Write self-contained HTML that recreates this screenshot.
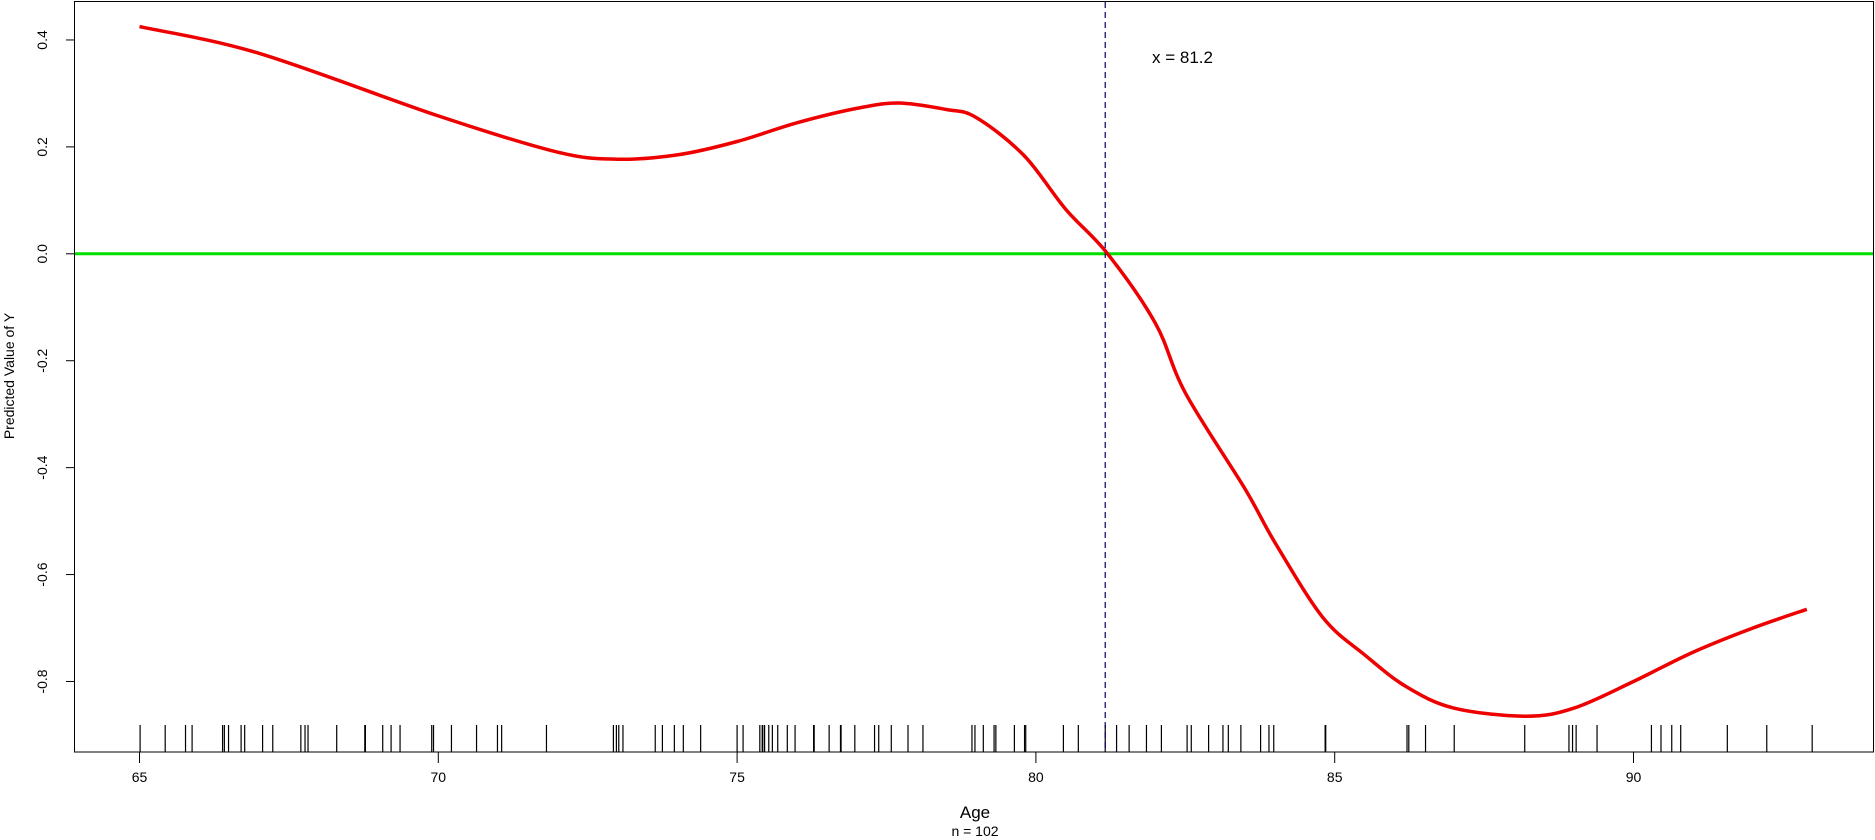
<!DOCTYPE html>
<html><head><meta charset="utf-8"><style>
html,body{margin:0;padding:0;background:#fff;}
svg{display:block;font-family:"Liberation Sans",Arial,sans-serif;}
</style></head><body>
<svg id="chart" width="1875" height="840" viewBox="0 0 1875 840">
<rect x="74.5" y="1.5" width="1799" height="750.5" fill="none" stroke="#000" stroke-width="1"/>
<g id="axes"></g>
<g id="marks"></g>
<text x="1152" y="63" font-size="17">x = 81.2</text>
<text x="975" y="818" font-size="17" text-anchor="middle">Age</text>
<text x="975" y="836" font-size="14" text-anchor="middle">n = 102</text>
<text transform="translate(14,376) rotate(-90)" font-size="14" text-anchor="middle">Predicted Value of Y</text>
</svg>
<script>
const xTicks = [65,70,75,80,85,90];
const yTicks = [0.4,0.2,0.0,-0.2,-0.4,-0.6,-0.8];
const yTickLabels = ["0.4","0.2","0.0","-0.2","-0.4","-0.6","-0.8"];
const curveX = [65,67,70,72,73,74,75,76,77,77.7,78.5,79,79.8,80.5,81.2,82,82.5,83.5,84,84.8,85.5,86.2,87,88.2,89,90,91,92,92.9];
const curveY = [0.425,0.375,0.258,0.19,0.177,0.185,0.21,0.245,0.272,0.282,0.27,0.255,0.184,0.083,0,-0.13,-0.26,-0.44,-0.54,-0.68,-0.75,-0.81,-0.85,-0.865,-0.85,-0.80,-0.745,-0.70,-0.665];
const rugX = [65.01,65.43,65.77,65.88,66.39,66.42,66.49,66.70,66.76,67.06,67.23,67.70,67.77,67.82,68.30,68.77,68.78,69.07,69.21,69.36,69.89,69.92,70.22,70.64,70.99,71.06,71.81,72.93,72.98,73.02,73.09,73.63,73.75,73.95,74.10,74.39,
75.00,75.10,75.38,75.42,75.43,75.46,75.53,75.59,75.68,75.84,75.97,76.28,76.29,76.54,76.73,76.74,76.97,77.30,77.37,77.58,77.86,78.11,78.93,78.98,79.12,79.30,79.33,79.64,79.81,79.83,80.46,80.71,81.16,81.35,81.56,81.85,82.10,82.53,82.60,82.89,83.13,83.22,83.43,83.76,83.90,83.98,
84.84,84.85,86.21,86.24,86.52,87.00,88.18,88.92,88.98,89.04,89.39,90.30,90.46,90.64,90.79,91.57,92.23,92.99];
const cutoffX = [81.16];
const refY = [0];

const sx = v => 139.5 + (v - 65) * 59.76;
const sy = v => 253.8 - v * 534.6;
const NS = "http://www.w3.org/2000/svg";
const axes = document.getElementById('axes');
const marks = document.getElementById('marks');
function mk(tag, attrs, parent){const e=document.createElementNS(NS,tag);for(const k in attrs)e.setAttribute(k,attrs[k]);parent.appendChild(e);return e;}

xTicks.forEach(t=>{
  const l=mk('line',{x1:sx(t),x2:sx(t),y1:752,y2:763,stroke:'#000'},axes);
  
  
  const tx=mk('text',{x:sx(t),y:782,'font-size':14,'text-anchor':'middle'},axes);
  tx.textContent=t;
  
  
});
yTicks.forEach((t,i)=>{
  const l=mk('line',{x1:66,x2:74.5,y1:sy(t),y2:sy(t),stroke:'#000'},axes);
  
  
  const tx=mk('text',{transform:`translate(47,${sy(t)}) rotate(-90)`,'font-size':14,'text-anchor':'middle'},axes);
  tx.textContent=yTickLabels[i];
  
  
});

refY.forEach(v=>{
  const g=mk('line',{x1:75,x2:1873,y1:sy(v),y2:sy(v),stroke:'#00e000','stroke-width':3},marks);
  
  
});
rugX.forEach(v=>{
  const r=mk('line',{x1:sx(v),x2:sx(v),y1:725,y2:752,stroke:'#000','stroke-width':1.2},marks);
  
  
});
cutoffX.forEach(v=>{
  const d=mk('line',{x1:sx(v),x2:sx(v),y1:2,y2:752,stroke:'#000060','stroke-width':1.2,'stroke-dasharray':'6,4'},marks);
  
  
});
const P = curveX.map((x,i)=>[sx(x), sy(curveY[i])]);
let dstr='M'+P[0][0].toFixed(1)+','+P[0][1].toFixed(1);
for(let i=0;i<P.length-1;i++){
  const p0=P[Math.max(0,i-1)], p1=P[i], p2=P[i+1], p3=P[Math.min(P.length-1,i+2)];
  const c1=[p1[0]+(p2[0]-p0[0])/6, p1[1]+(p2[1]-p0[1])/6];
  const c2=[p2[0]-(p3[0]-p1[0])/6, p2[1]-(p3[1]-p1[1])/6];
  dstr+='C'+c1[0].toFixed(1)+','+c1[1].toFixed(1)+' '+c2[0].toFixed(1)+','+c2[1].toFixed(1)+' '+p2[0].toFixed(1)+','+p2[1].toFixed(1);
}
const c=mk('path',{d:dstr,fill:'none',stroke:'#ee0000','stroke-width':3.5,'stroke-linejoin':'round'},marks);


</script>
</body></html>
